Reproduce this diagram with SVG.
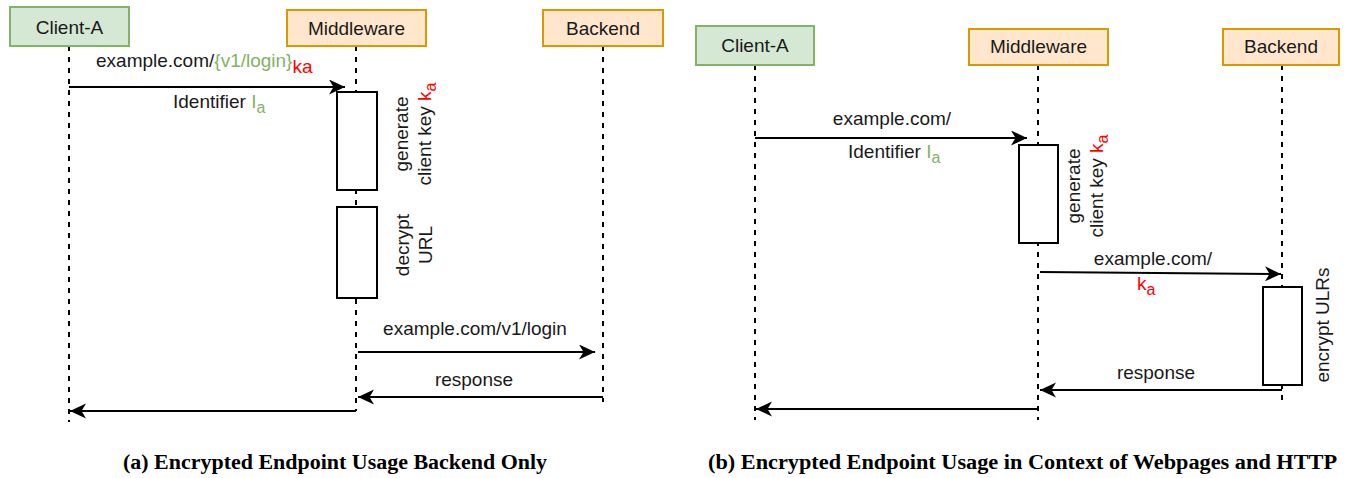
<svg xmlns="http://www.w3.org/2000/svg" width="1348" height="478" viewBox="0 0 1348 478">
<style>
  text { font-family: "Liberation Sans", Arial, sans-serif; font-size: 19px; fill: #1a1a1a; }
  .c { text-anchor: middle; }
  .g { fill: #82b366; }
  .r { fill: #ff0000; }
  .client rect { fill: #d5e8d4; stroke: #82b366; stroke-width: 2; }
  .part rect { fill: #ffe6cc; stroke: #d79b00; stroke-width: 2; }
  .life { stroke: #000; stroke-width: 2; stroke-dasharray: 5 6; fill: none; }
  .act { fill: #fff; stroke: #000; stroke-width: 2; }
  .msg { stroke: #000; stroke-width: 2; fill: none; marker-end: url(#arr); }
  .cap { font-family: "Liberation Serif", "Times New Roman", serif; font-weight: bold; font-size: 20px; fill: #000; }
</style>
<defs>
  <marker id="arr" markerUnits="userSpaceOnUse" markerWidth="18" markerHeight="16" refX="16" refY="7.5" orient="auto">
    <path d="M0,0 L16,7.5 L0,15 L4.5,7.5 Z" fill="#000"/>
  </marker>
</defs>
<rect width="1348" height="478" fill="#fff"/>

<!-- Lifelines -->
<g id="lifelines">
  <line class="life" x1="69" y1="46" x2="69" y2="422"/>
  <line class="life" x1="356" y1="46" x2="356" y2="411"/>
  <line class="life" x1="603" y1="46" x2="603" y2="402"/>
  <line class="life" x1="755" y1="65" x2="755" y2="420"/>
  <line class="life" x1="1038" y1="65" x2="1038" y2="420"/>
  <line class="life" x1="1282" y1="65" x2="1282" y2="400"/>
</g>

<!-- (a) nodes -->
<g id="a-client" class="client">
  <rect x="10" y="7" width="119" height="39"/>
  <text class="c" x="69.5" y="34">Client-A</text>
</g>
<g id="a-middleware" class="part">
  <rect x="287" y="10" width="139" height="36"/>
  <text class="c" x="356.5" y="35">Middleware</text>
</g>
<g id="a-backend" class="part">
  <rect x="543" y="10" width="120" height="36"/>
  <text class="c" x="603" y="35">Backend</text>
</g>
<g id="a-act-generate">
  <rect class="act" x="337" y="92" width="40" height="98"/>
  <text transform="translate(416,134) rotate(-90)" class="c"><tspan x="0" y="-8">generate</tspan><tspan x="0" y="15">client key <tspan class="r">k</tspan><tspan class="r" dy="5" font-size="16">a</tspan></tspan></text>
</g>
<g id="a-act-decrypt">
  <rect class="act" x="337" y="207" width="40" height="91"/>
  <text transform="translate(416,245) rotate(-90)" class="c"><tspan x="0" y="-7">decrypt</tspan><tspan x="0" y="16">URL</tspan></text>
</g>

<!-- (b) nodes -->
<g id="b-client" class="client">
  <rect x="696" y="26" width="118" height="39"/>
  <text class="c" x="755" y="52">Client-A</text>
</g>
<g id="b-middleware" class="part">
  <rect x="969" y="29" width="139" height="36"/>
  <text class="c" x="1038.5" y="53">Middleware</text>
</g>
<g id="b-backend" class="part">
  <rect x="1223" y="29" width="116" height="36"/>
  <text class="c" x="1281" y="53">Backend</text>
</g>
<g id="b-act-generate">
  <rect class="act" x="1019" y="145" width="39" height="98"/>
  <text transform="translate(1087,186) rotate(-90)" class="c"><tspan x="0" y="-7">generate</tspan><tspan x="0" y="16">client key <tspan class="r">k</tspan><tspan class="r" dy="5" font-size="16">a</tspan></tspan></text>
</g>
<g id="b-act-encrypt">
  <rect class="act" x="1263" y="287" width="39" height="98"/>
  <text transform="translate(1329,325) rotate(-90)" class="c">encrypt ULRs</text>
</g>

<!-- Connectors -->
<g id="connectors">
  <line class="msg" x1="69" y1="87" x2="345" y2="87"/>
  <line class="msg" x1="358" y1="352" x2="595" y2="352"/>
  <line class="msg" x1="603" y1="397" x2="358" y2="397"/>
  <line class="msg" x1="356" y1="411" x2="70" y2="411"/>
  <line class="msg" x1="755" y1="138" x2="1027" y2="138"/>
  <line class="msg" x1="1040" y1="272" x2="1281" y2="274"/>
  <line class="msg" x1="1282" y1="390" x2="1040" y2="390"/>
  <line class="msg" x1="1038" y1="409" x2="756" y2="409"/>
</g>

<!-- Connector labels -->
<g id="labels">
  <text x="96" y="67">example.com/<tspan class="g">{v1/login}</tspan><tspan class="r" dy="6">ka</tspan></text>
  <text x="173" y="108">Identifier <tspan class="g">I</tspan><tspan class="g" dy="5" font-size="16">a</tspan></text>
  <text class="c" x="475" y="335">example.com/v1/login</text>
  <text class="c" x="474" y="386">response</text>
  <text class="c" x="892" y="125">example.com/</text>
  <text x="848" y="158">Identifier <tspan class="g">I</tspan><tspan class="g" dy="5" font-size="16">a</tspan></text>
  <text class="c" x="1153" y="265">example.com/</text>
  <text x="1137" y="290"><tspan class="r">k</tspan><tspan class="r" dy="5" font-size="16">a</tspan></text>
  <text class="c" x="1156" y="379">response</text>
</g>

<!-- Captions -->
<text class="cap" x="123" y="469" textLength="424" lengthAdjust="spacingAndGlyphs">(a) Encrypted Endpoint Usage Backend Only</text>
<text class="cap" x="708" y="469" textLength="629" lengthAdjust="spacingAndGlyphs">(b) Encrypted Endpoint Usage in Context of Webpages and HTTP</text>
</svg>
